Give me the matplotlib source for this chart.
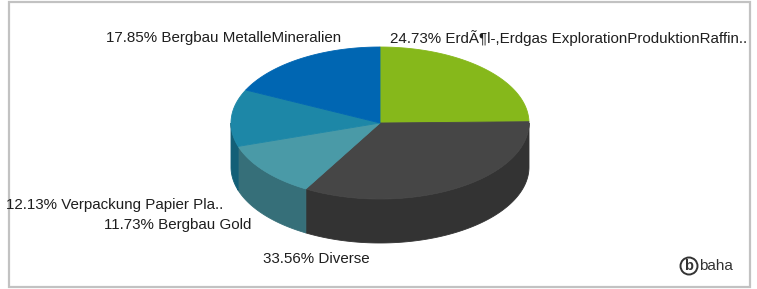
import numpy as np
import matplotlib as mpl
mpl.use('Agg')
import matplotlib.pyplot as plt
from matplotlib.patches import Circle, Rectangle

mpl.rcParams['font.family'] = ['Liberation Sans', 'DejaVu Sans']

# data
sectors = ['ErdÃ¶l-,Erdgas ExplorationProduktionRaffin..', 'Diverse', 'Bergbau Gold',
           'Verpackung Papier Pla..', 'Bergbau MetalleMineralien']
shares = [24.73, 33.56, 11.73, 12.13, 17.85]

top_colors = ['#86b81b', '#464646', '#4a9aa7', '#1d87a7', '#0066b2']
side_colors = ['#6a9415', '#333333', '#366f79', '#135f77', '#004c87']

# label anchors in pixels (x, y, ha)
label_pos = [(390, 38, 'left'), (316, 259, 'center'), (251, 225, 'right'),
             (223, 205, 'right'), (341, 38, 'right')]

W, H = 757, 289
cx, cy, rx, ry, depth = 380, 123, 149, 76, 44

fig = plt.figure(figsize=(W / 100, H / 100), dpi=100)
ax = fig.add_axes([0, 0, 1, 1])
ax.set_xlim(0, W)
ax.set_ylim(H, 0)
ax.axis('off')

ax.add_patch(Rectangle((8.5, 1.5), 741, 285, fill=False, ec='#c2c2c2', lw=1.6))


def arc(t0, t1, dy=0.0, n=120):
    t = np.radians(np.linspace(t0, t1, n))
    return cx + rx * np.cos(t), cy - ry * np.sin(t) + dy


fracs = np.array(shares) / sum(shares)
ends = 90 - np.cumsum(fracs) * 360
starts = np.concatenate([[90], ends[:-1]])

# side walls (only the front half is visible)
for s, e, col in zip(starts, ends, side_colors):
    lo, hi = e % 360, s % 360
    if hi <= lo:
        hi += 360
    for base in (0, 360):
        a0 = max(lo, 180 + base)
        a1 = min(hi, 360 + base)
        if a1 > a0:
            x1, y1 = arc(a0, a1)
            x2, y2 = arc(a1, a0, depth)
            ax.fill(np.concatenate([x1, x2]), np.concatenate([y1, y2]),
                    color=col, lw=0.6, ec=col)

# top faces
for s, e, col in zip(starts, ends, top_colors):
    x, y = arc(s, e)
    ax.fill(np.concatenate([[cx], x]), np.concatenate([[cy], y]),
            color=col, lw=0.6, ec=col)

for name, pct, (lx, ly, ha) in zip(sectors, shares, label_pos):
    ax.text(lx, ly, f'{pct:.2f}% {name}', ha=ha, va='center',
            fontsize=10.9, color='#1e1e1e')

# baha logo
ax.add_patch(Circle((689, 266), 8.5, fill=False, ec='#333333', lw=1.4))
ax.text(689, 265.5, 'b', ha='center', va='center', fontsize=10.5,
        fontweight='bold', color='#333333')
ax.text(699, 266, 'baha', ha='left', va='center', fontsize=11,
        color='#333333')

fig.savefig('out.png', dpi=100)
